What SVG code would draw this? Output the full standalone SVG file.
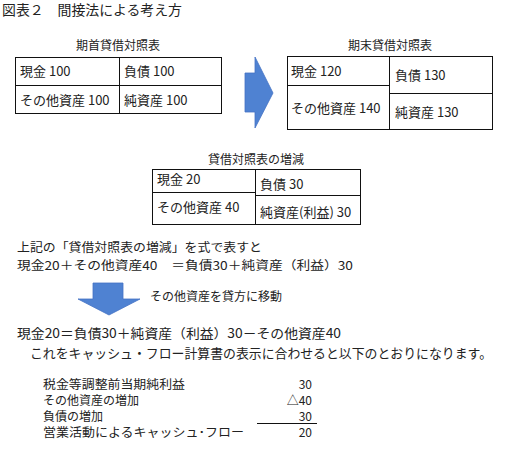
<svg xmlns="http://www.w3.org/2000/svg" width="510" height="459" viewBox="0 0 510 459">
<style>
text{font-family:"Noto Sans CJK JP","Noto Sans",sans-serif;fill:#222;}
.t13{font-size:13px;}
.t12{font-size:12px;}
.eq{font-size:12px;}
.cf{font-size:12px;}
.cell{fill:#fff;stroke:#111;stroke-width:1;}
.ln{stroke:#111;stroke-width:1;fill:none;}
.arrow{fill:#4F82D2;stroke:#4472C4;stroke-width:0.8;}
</style>
<rect width="510" height="459" fill="#fff"/>
<text x="2" y="15" style="font-size:13.5px" textLength="180" lengthAdjust="spacingAndGlyphs">図表２　間接法による考え方</text>

<g id="bs-begin">
<text class="t12" x="118" y="50" text-anchor="middle">期首貸借対照表</text>
<rect class="cell" x="15.5" y="57.5" width="206" height="56"/>
<line class="ln" x1="119.5" y1="57.5" x2="119.5" y2="113.5"/>
<line class="ln" x1="15.5" y1="85.5" x2="221.5" y2="85.5"/>
<text class="t13" x="20" y="76">現金 100</text>
<text class="t13" x="20" y="105">その他資産 100</text>
<text class="t13" x="124" y="76">負債 100</text>
<text class="t13" x="124" y="105">純資産 100</text>
</g>

<g id="bs-end">
<text class="t12" x="390" y="50" text-anchor="middle">期末貸借対照表</text>
<rect class="cell" x="287.5" y="56.5" width="205" height="73"/>
<line class="ln" x1="389.5" y1="56.5" x2="389.5" y2="129.5"/>
<line class="ln" x1="287.5" y1="85.5" x2="389.5" y2="85.5"/>
<line class="ln" x1="389.5" y1="93.5" x2="492.5" y2="93.5"/>
<text class="t13" x="291" y="76">現金 120</text>
<text class="t13" x="291" y="113">その他資産 140</text>
<text class="t13" x="395" y="80">負債 130</text>
<text class="t13" x="395" y="117">純資産 130</text>
</g>

<g id="bs-diff">
<text class="t12" x="256" y="164" text-anchor="middle">貸借対照表の増減</text>
<rect class="cell" x="152.5" y="169.5" width="208" height="55"/>
<line class="ln" x1="255.5" y1="169.5" x2="255.5" y2="224.5"/>
<line class="ln" x1="152.5" y1="192.5" x2="255.5" y2="192.5"/>
<line class="ln" x1="255.5" y1="195.5" x2="360.5" y2="195.5"/>
<text class="t13" x="157" y="184">現金 20</text>
<text class="t13" x="157" y="212">その他資産 40</text>
<text class="t13" x="260" y="189">負債 30</text>
<text class="t13" x="260" y="217">純資産(利益) 30</text>
</g>

<g id="connectors">
<polygon class="arrow" points="245,73 255,73 255,57 273,93 255,128 255,112 245,112"/>
<polygon class="arrow" points="93,283 123,283 123,299 140,299 109,315 78,299 93,299"/>
</g>

<g id="equations">
<text class="eq" x="17" y="251.5" textLength="245" lengthAdjust="spacingAndGlyphs">上記の「貸借対照表の増減」を式で表すと</text>
<text class="eq" x="17" y="269.5" textLength="336" lengthAdjust="spacingAndGlyphs">現金20＋その他資産40　＝負債30＋純資産（利益）30</text>
<text class="t12" x="150" y="301" textLength="132" lengthAdjust="spacingAndGlyphs">その他資産を貸方に移動</text>
<text class="t13" x="17" y="338" textLength="324" lengthAdjust="spacingAndGlyphs">現金20＝負債30＋純資産（利益）30－その他資産40</text>
<text class="t13" x="30" y="358" textLength="462" lengthAdjust="spacingAndGlyphs">これをキャッシュ・フロー計算書の表示に合わせると以下のとおりになります。</text>
</g>

<g id="cf-table">
<text class="cf" x="43" y="389" textLength="142" lengthAdjust="spacingAndGlyphs">税金等調整前当期純利益</text>
<text class="cf" x="43" y="405">その他資産の増加</text>
<text class="cf" x="43" y="421">負債の増加</text>
<text class="cf" x="43" y="437" textLength="201" lengthAdjust="spacingAndGlyphs">営業活動によるキャッシュ･フロー</text>
<text class="cf" x="312" y="389" text-anchor="end">30</text>
<text class="cf" x="312" y="405" text-anchor="end">△40</text>
<text class="cf" x="312" y="421" text-anchor="end">30</text>
<text class="cf" x="312" y="437" text-anchor="end">20</text>
<line class="ln" x1="257" y1="423.5" x2="317" y2="423.5"/>
</g>
</svg>
